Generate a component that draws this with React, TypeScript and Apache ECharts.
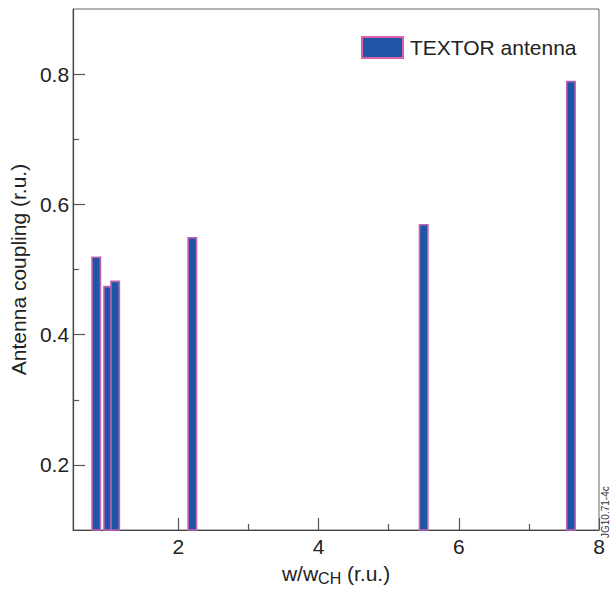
import React, { useEffect, useRef } from "react";
import * as echarts from "echarts";

const positions = [0.83, 1.0, 1.1, 2.2, 5.5, 7.6];
const coupling = [0.52, 0.475, 0.483, 0.55, 0.57, 0.79];
const xMajorTicks = [2, 4, 6, 8];
const xMinorTicks = [1, 3, 5, 7];
const yMajorTicks = [0.2, 0.4, 0.6, 0.8];
const yMinorTicks = [0.3, 0.5, 0.7];
const seriesName = "TEXTOR antenna";

const FONT = "Liberation Sans, Arial, Helvetica, sans-serif";
const AXIS_COLOR = "#444";

export default function App() {
  const ref = useRef<HTMLDivElement>(null);
  useEffect(() => {
    document.body.style.margin = "0";
    if (!ref.current) return;
    const chart = echarts.init(ref.current, null, { renderer: "svg" });
    const data = positions.map((x, i) => [x, coupling[i]]);
    const baseX = {
      type: "value",
      min: 0.5,
      max: 8,
      splitLine: { show: false },
    };
    const baseY = {
      type: "value",
      min: 0.1,
      max: 0.9,
      splitLine: { show: false },
    };
    chart.setOption({
      animation: false,
      textStyle: { fontFamily: FONT },
      grid: {
        left: 69,
        right: 11,
        top: 9,
        bottom: 53,
        show: true,
        borderColor: "#666",
        borderWidth: 1,
        containLabel: false,
      },
      legend: {
        left: 361,
        top: 36,
        padding: 0,
        icon: "rect",
        itemWidth: 41,
        itemHeight: 21,
        textStyle: { fontSize: 21, color: "#222", fontFamily: FONT, padding: [0, 0, 0, 2] },
        data: [
          {
            name: seriesName,
            itemStyle: { color: "#1f55a5", borderColor: "#e060a8", borderWidth: 2 },
          },
        ],
      },
      xAxis: [
        {
          ...baseX,
          name: "w/w{sub|CH} (r.u.)",
          nameLocation: "middle",
          nameGap: 31,
          nameTextStyle: {
            fontSize: 21,
            color: "#222",
            fontFamily: FONT,
            rich: { sub: { fontSize: 16, verticalAlign: "bottom", padding: [9, 0, 0, 0], color: "#222", fontFamily: FONT } },
          },
          axisLine: { show: true, lineStyle: { color: AXIS_COLOR, width: 1.2 } },
          axisTick: {
            show: true,
            inside: true,
            length: 12,
            customValues: xMajorTicks,
            lineStyle: { color: "#555", width: 1.2 },
          },
          axisLabel: {
            customValues: xMajorTicks,
            fontSize: 21,
            color: "#222",
            margin: 6,
            fontFamily: FONT,
          },
        },
        {
          ...baseX,
          position: "bottom",
          axisLine: { show: false },
          axisTick: {
            show: true,
            inside: true,
            length: 6,
            customValues: xMinorTicks,
            lineStyle: { color: "#555", width: 1.2 },
          },
          axisLabel: { show: false },
        },
      ],
      yAxis: [
        {
          ...baseY,
          name: "Antenna coupling (r.u.)",
          nameLocation: "middle",
          nameGap: 44,
          nameTextStyle: { fontSize: 21, color: "#222", fontFamily: FONT },
          axisLine: { show: true, lineStyle: { color: AXIS_COLOR, width: 1.2 } },
          axisTick: {
            show: true,
            inside: true,
            length: 12,
            customValues: yMajorTicks,
            lineStyle: { color: "#555", width: 1.2 },
          },
          axisLabel: {
            customValues: yMajorTicks,
            fontSize: 21,
            color: "#222",
            margin: 4,
            fontFamily: FONT,
            formatter: (v: number) => v.toFixed(1),
          },
        },
        {
          ...baseY,
          position: "left",
          axisLine: { show: false },
          axisTick: {
            show: true,
            inside: true,
            length: 6,
            customValues: yMinorTicks,
            lineStyle: { color: "#555", width: 1.2 },
          },
          axisLabel: { show: false },
        },
      ],
      series: [
        {
          name: seriesName,
          type: "bar",
          xAxisIndex: 0,
          yAxisIndex: 0,
          barWidth: 10,
          clip: true,
          data,
          itemStyle: {
            color: "#1f55a5",
            borderColor: "#c063b4",
            borderWidth: 1.6,
          },
        },
      ],
      graphic: [
        {
          type: "text",
          x: 610,
          y: 538,
          rotation: Math.PI / 2,
          style: {
            text: "JG10.71-4c",
            fontSize: 10,
            fill: "#333",
            fontFamily: FONT,
            textAlign: "left",
            textVerticalAlign: "bottom",
          },
        },
      ],
    });
    return () => chart.dispose();
  }, []);
  return <div ref={ref} style={{ width: 610, height: 591 }} />;
}
